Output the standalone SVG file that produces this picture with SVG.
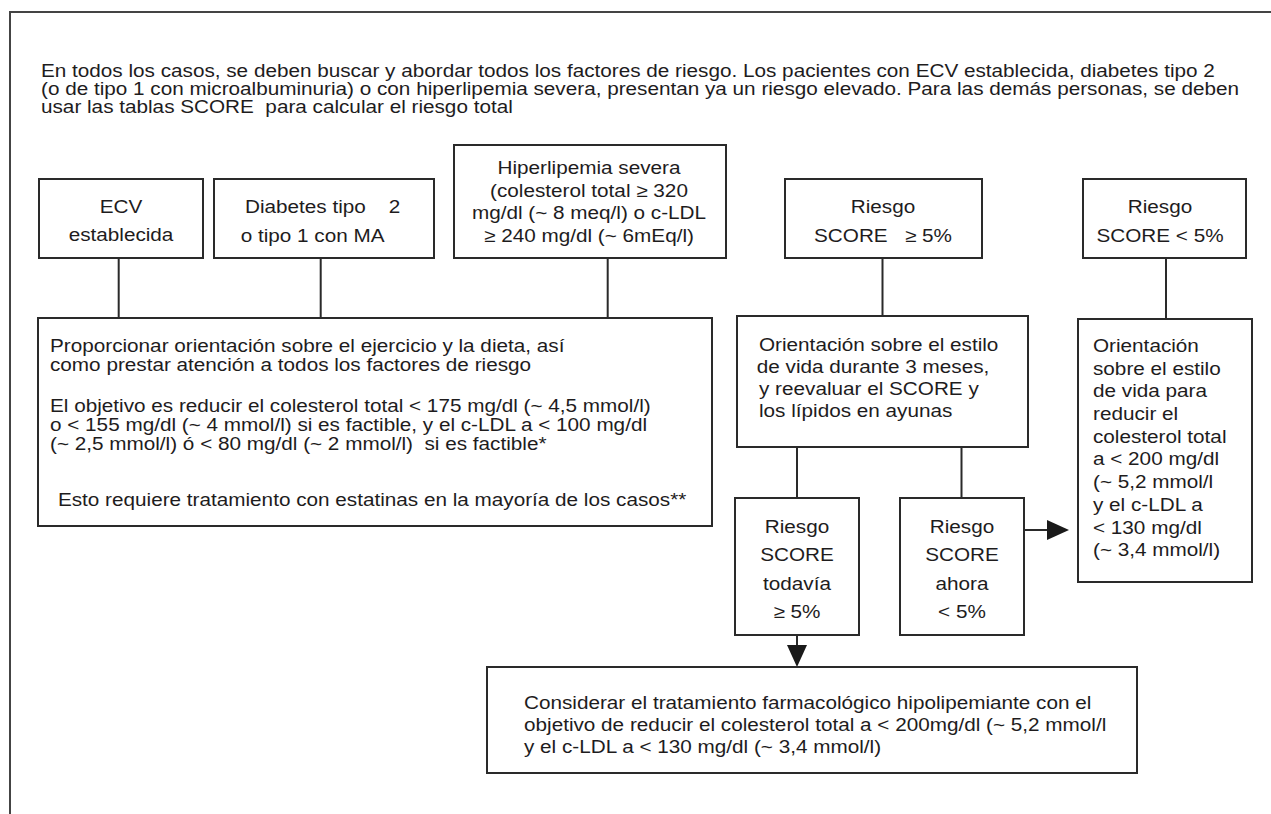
<svg xmlns="http://www.w3.org/2000/svg" width="1271" height="814" viewBox="0 0 1271 814">
<style>
.box{fill:#fff;stroke:#2a2a2a;stroke-width:2}
.ln{stroke:#2a2a2a;stroke-width:2;fill:none}
.fr{stroke:#444;stroke-width:2;fill:none}
.t{font-family:"Liberation Sans",Arial,Helvetica,sans-serif;font-size:18.5px;fill:#1e1c1d}
.m{text-anchor:middle}
</style>
<defs>
<marker id="ah" viewBox="0 0 22 20" refX="10" refY="10" markerWidth="22" markerHeight="20" markerUnits="userSpaceOnUse" orient="auto"><path d="M0,0L22,10L0,20z" fill="#1a1a1a"/></marker>
</defs>
<rect width="1271" height="814" fill="#fff"/>
<g id="frame"><path class="fr" d="M10,814V12H1271"/></g>
<g id="intro"><text class="t" transform="translate(41 77) scale(1.12 1)" xml:space="preserve"><tspan x="0">En todos los casos, se deben buscar y abordar todos los factores de riesgo. Los pacientes con ECV establecida, diabetes tipo 2</tspan><tspan x="0" dy="18">(o de tipo 1 con microalbuminuria) o con hiperlipemia severa, presentan ya un riesgo elevado. Para las demás personas, se deben</tspan><tspan x="0" dy="18">usar las tablas SCORE  para calcular el riesgo total</tspan></text></g>
<g id="connectors">
<path class="ln" d="M118.7,258V318M320.7,258V318M607.7,258V318M882.5,258V316M1166,258V319M797,447V498M961.5,447V498"/>
<path class="ln" d="M797,635V655" marker-end="url(#ah)"/>
<path class="ln" d="M1024,530H1057" marker-end="url(#ah)"/>
</g>
<g id="ecv"><rect class="box" x="39" y="179" width="164" height="79"/><text class="t m" transform="translate(121 212.5) scale(1.12 1)"><tspan x="0">ECV</tspan><tspan x="0" dy="29">establecida</tspan></text></g>
<g id="diabetes"><rect class="box" x="214" y="179" width="220" height="79"/><text class="t" transform="translate(245 212.5) scale(1.12 1)" xml:space="preserve">Diabetes tipo    2</text><text class="t" transform="translate(240.7 241.5) scale(1.12 1)">o tipo 1 con MA</text></g>
<g id="hiperlipemia"><rect class="box" x="454" y="145" width="272" height="113"/><text class="t m" transform="translate(589 174.3) scale(1.12 1)"><tspan x="0">Hiperlipemia severa</tspan><tspan x="0" dy="22.5">(colesterol total ≥ 320</tspan><tspan x="0" dy="22.5">mg/dl (~ 8 meq/l) o c-LDL</tspan><tspan x="0" dy="22.5">≥ 240 mg/dl (~ 6mEq/l)</tspan></text></g>
<g id="riesgo-alto"><rect class="box" x="785" y="179" width="197" height="79"/><text class="t m" transform="translate(883 213) scale(1.12 1)" xml:space="preserve"><tspan x="0">Riesgo</tspan><tspan x="0" dy="29">SCORE   ≥ 5%</tspan></text></g>
<g id="riesgo-bajo"><rect class="box" x="1083" y="179" width="163" height="79"/><text class="t m" transform="translate(1160 213) scale(1.12 1)"><tspan x="0">Riesgo</tspan><tspan x="0" dy="29">SCORE &lt; 5%</tspan></text></g>
<g id="orientacion-general"><rect class="box" x="38" y="318" width="674" height="208"/><text class="t" transform="translate(50 352) scale(1.12 1)" xml:space="preserve"><tspan x="0">Proporcionar orientación sobre el ejercicio y la dieta, así</tspan><tspan x="0" dy="19">como prestar atención a todos los factores de riesgo</tspan><tspan x="0" dy="41">El objetivo es reducir el colesterol total &lt; 175 mg/dl (~ 4,5 mmol/l)</tspan><tspan x="0" dy="19">o &lt; 155 mg/dl (~ 4 mmol/l) si es factible, y el c-LDL a &lt; 100 mg/dl</tspan><tspan x="0" dy="19">(~ 2,5 mmol/l) ó &lt; 80 mg/dl (~ 2 mmol/l)  si es factible*</tspan><tspan x="7.1" dy="56">Esto requiere tratamiento con estatinas en la mayoría de los casos**</tspan></text></g>
<g id="orientacion-3meses"><rect class="box" x="737" y="316" width="291" height="131"/><text class="t" transform="translate(759 351) scale(1.12 1)"><tspan x="0">Orientación sobre el estilo</tspan><tspan x="-2" dy="22">de vida durante 3 meses,</tspan><tspan x="0" dy="22">y reevaluar el SCORE y</tspan><tspan x="0" dy="22">los lípidos en ayunas</tspan></text></g>
<g id="orientacion-estilo"><rect class="box" x="1078" y="319" width="174" height="263"/><text class="t" transform="translate(1093 352) scale(1.12 1)"><tspan x="0">Orientación</tspan><tspan x="0" dy="22.7">sobre el estilo</tspan><tspan x="0" dy="22.7">de vida para</tspan><tspan x="0" dy="22.7">reducir el</tspan><tspan x="0" dy="22.7">colesterol total</tspan><tspan x="0" dy="22.7">a &lt; 200 mg/dl</tspan><tspan x="0" dy="22.7">(~ 5,2 mmol/l</tspan><tspan x="0" dy="22.7">y el c-LDL a</tspan><tspan x="0" dy="22.7">&lt; 130 mg/dl</tspan><tspan x="0" dy="22.7">(~ 3,4 mmol/l)</tspan></text></g>
<g id="riesgo-todavia"><rect class="box" x="735" y="498" width="124" height="137"/><text class="t m" transform="translate(797 533) scale(1.12 1)"><tspan x="0">Riesgo</tspan><tspan x="0" dy="28.5">SCORE</tspan><tspan x="0" dy="28.5">todavía</tspan><tspan x="0" dy="28.5">≥ 5%</tspan></text></g>
<g id="riesgo-ahora"><rect class="box" x="900" y="498" width="124" height="137"/><text class="t m" transform="translate(962 533) scale(1.12 1)"><tspan x="0">Riesgo</tspan><tspan x="0" dy="28.5">SCORE</tspan><tspan x="0" dy="28.5">ahora</tspan><tspan x="0" dy="28.5">&lt; 5%</tspan></text></g>
<g id="tratamiento"><rect class="box" x="487" y="667" width="650" height="106"/><text class="t" transform="translate(524 709) scale(1.12 1)"><tspan x="0">Considerar el tratamiento farmacológico hipolipemiante con el</tspan><tspan x="0" dy="22">objetivo de reducir el colesterol total a &lt; 200mg/dl (~ 5,2 mmol/l</tspan><tspan x="0" dy="22">y el c-LDL a &lt; 130 mg/dl (~ 3,4 mmol/l)</tspan></text></g>
</svg>
